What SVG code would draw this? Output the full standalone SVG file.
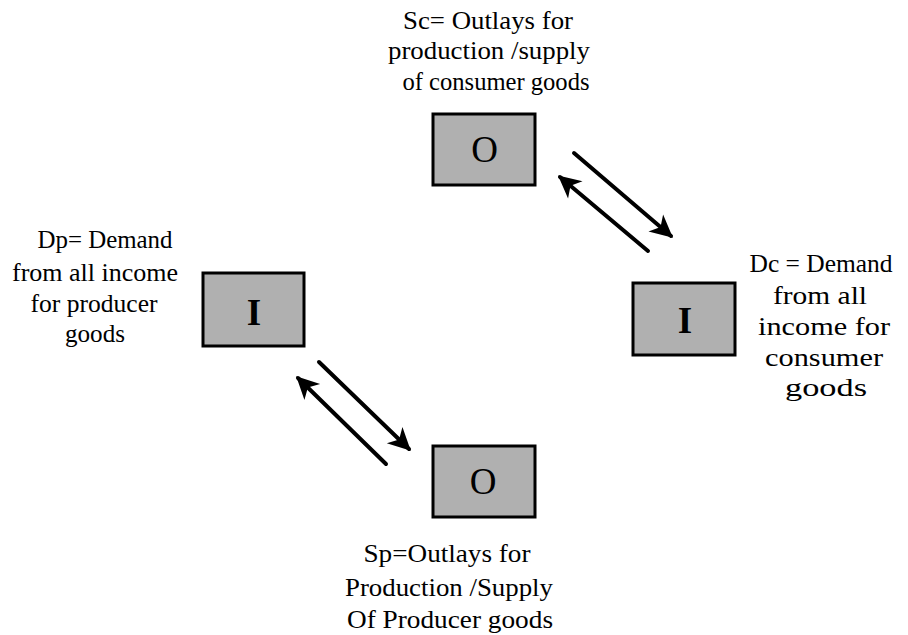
<svg xmlns="http://www.w3.org/2000/svg" width="908" height="635" viewBox="0 0 908 635">
<style>
.lbl{font-family:"Liberation Serif","Times New Roman",serif;font-size:26px;fill:#000;text-anchor:middle}
.box{fill:#b0b0b0;stroke:#000;stroke-width:3}
.big{font-family:"Liberation Serif","Times New Roman",serif;font-size:37px;fill:#000;text-anchor:middle}
.arr{stroke:#000;stroke-width:4;fill:none;stroke-linecap:round}
</style>
<defs>
<marker id="ah" markerUnits="userSpaceOnUse" markerWidth="30" markerHeight="30" viewBox="-20 -12 24 24" refX="0" refY="0" orient="auto">
<path d="M2,0 L-16,-9 L-11,0 L-16,9 Z" fill="#000"/>
</marker>
</defs>
<rect width="908" height="635" fill="#fff"/>
<g id="node-top-O">
<text class="lbl" x="488" y="29" textLength="170" lengthAdjust="spacingAndGlyphs">Sc= Outlays for</text>
<text class="lbl" x="489" y="59" textLength="202" lengthAdjust="spacingAndGlyphs">production /supply</text>
<text class="lbl" x="496" y="90" textLength="187" lengthAdjust="spacingAndGlyphs">of consumer goods</text>
<rect class="box" x="433" y="114" width="102" height="71"/>
<text class="big" x="484.5" y="162">O</text>
</g>
<g id="node-right-I">
<rect class="box" x="633" y="283" width="102" height="72"/>
<text class="big" x="685" y="333" font-weight="bold">I</text>
<text class="lbl" x="821" y="272" textLength="143" lengthAdjust="spacingAndGlyphs">Dc = Demand</text>
<text class="lbl" x="820" y="304" textLength="94" lengthAdjust="spacingAndGlyphs">from  all</text>
<text class="lbl" x="824" y="335" textLength="132" lengthAdjust="spacingAndGlyphs">income for</text>
<text class="lbl" x="824" y="366" textLength="118" lengthAdjust="spacingAndGlyphs">consumer</text>
<text class="lbl" x="826" y="396" textLength="82" lengthAdjust="spacingAndGlyphs">goods</text>
</g>
<g id="node-left-I">
<text class="lbl" x="105" y="248" textLength="135" lengthAdjust="spacingAndGlyphs">Dp= Demand</text>
<text class="lbl" x="95" y="281" textLength="166" lengthAdjust="spacingAndGlyphs">from all income</text>
<text class="lbl" x="94" y="312" textLength="127" lengthAdjust="spacingAndGlyphs">for producer</text>
<text class="lbl" x="95" y="342" textLength="60" lengthAdjust="spacingAndGlyphs">goods</text>
<rect class="box" x="203" y="273" width="101" height="73"/>
<text class="big" x="254" y="325" font-weight="bold">I</text>
</g>
<g id="node-bottom-O">
<rect class="box" x="433" y="446" width="102" height="71"/>
<text class="big" x="483" y="494">O</text>
<text class="lbl" x="447" y="562" textLength="167" lengthAdjust="spacingAndGlyphs">Sp=Outlays for</text>
<text class="lbl" x="449" y="596" textLength="208" lengthAdjust="spacingAndGlyphs">Production /Supply</text>
<text class="lbl" x="450" y="628" textLength="206" lengthAdjust="spacingAndGlyphs">Of Producer goods</text>
</g>
<g id="connectors">
<line class="arr" x1="574" y1="153" x2="671" y2="236" marker-end="url(#ah)"/>
<line class="arr" x1="648" y1="251" x2="560" y2="177" marker-end="url(#ah)"/>
<line class="arr" x1="319" y1="362" x2="409" y2="449" marker-end="url(#ah)"/>
<line class="arr" x1="386" y1="464" x2="298" y2="378" marker-end="url(#ah)"/>
</g>
</svg>
